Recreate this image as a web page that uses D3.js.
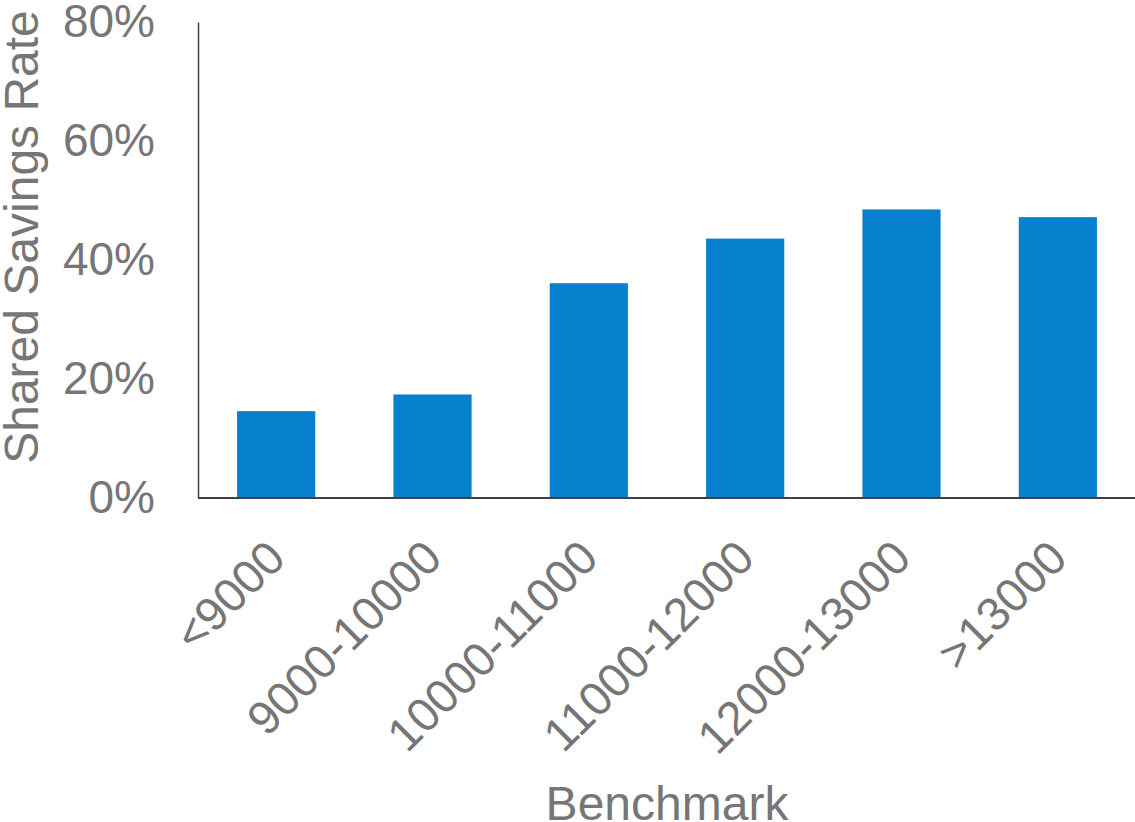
<!DOCTYPE html>
<html>
<head>
<meta charset="utf-8">
<script src="https://cdn.jsdelivr.net/npm/d3@7"></script>
<style>
  html, body { margin: 0; padding: 0; background: #fff; }
  svg { display: block; }
  text { font-family: "Liberation Sans", Arial, sans-serif; fill: #767676; }
</style>
</head>
<body>
<svg id="chart" width="1135" height="822"></svg>
<script>
const categories = ["<9000", "9000-10000", "10000-11000", "11000-12000", "12000-13000", ">13000"];
const values = [0.146, 0.174, 0.361, 0.436, 0.485, 0.472];
const yTicks = [0, 0.2, 0.4, 0.6, 0.8];
const xTitle = "Benchmark";
const yTitle = "Shared Savings Rate";

const svg = d3.select("#chart");
const mLeft = 198, mRight = 1136, mTop = 22, mBottom = 498;

const x = d3.scaleBand().domain(categories).range([mLeft, mRight]).paddingInner(0.5).paddingOuter(0.25);
const y = d3.scaleLinear().domain([0, 0.8]).range([mBottom, mTop]);

// bars
svg.append("g").selectAll("rect").data(values).join("rect")
  .attr("x", (d, i) => x(categories[i]))
  .attr("y", d => y(d))
  .attr("width", x.bandwidth())
  .attr("height", d => y(0) - y(d))
  .attr("fill", "#0780cd");

// y axis
const yAxis = d3.axisLeft(y).tickValues(yTicks).tickFormat(d3.format(".0%")).tickSize(0).tickPadding(43);
const gy = svg.append("g").attr("transform", `translate(${mLeft},0)`).call(yAxis);
gy.select(".domain").attr("stroke", "#404040").attr("stroke-width", 1.5);
gy.selectAll("text").attr("font-size", 46).attr("fill", "#767676")
  .style("font-family", '"Liberation Sans", Arial, sans-serif');

// x axis
const xAxis = d3.axisBottom(x).tickSize(0).tickFormat("");
const gx = svg.append("g").attr("transform", `translate(0,${mBottom})`).call(xAxis);
gx.select(".domain").attr("stroke", "#404040").attr("stroke-width", 2).attr("d", `M${mLeft},0H${mRight}`);

// x tick labels rotated
svg.append("g").selectAll("text").data(categories).join("text")
  .attr("transform", d => `translate(${x(d) + x.bandwidth() / 2},549) rotate(-45)`)
  .attr("text-anchor", "end")
  .attr("dy", "0.35em")
  .attr("font-size", 47)
  .text(d => d);

// axis titles
svg.append("text")
  .attr("x", (mLeft + mRight) / 2).attr("y", 820)
  .attr("text-anchor", "middle").attr("font-size", 48)
  .text(xTitle);

svg.append("text")
  .attr("transform", `translate(38,237) rotate(-90)`)
  .attr("text-anchor", "middle").attr("font-size", 48)
  .text(yTitle);
</script>
</body>
</html>
